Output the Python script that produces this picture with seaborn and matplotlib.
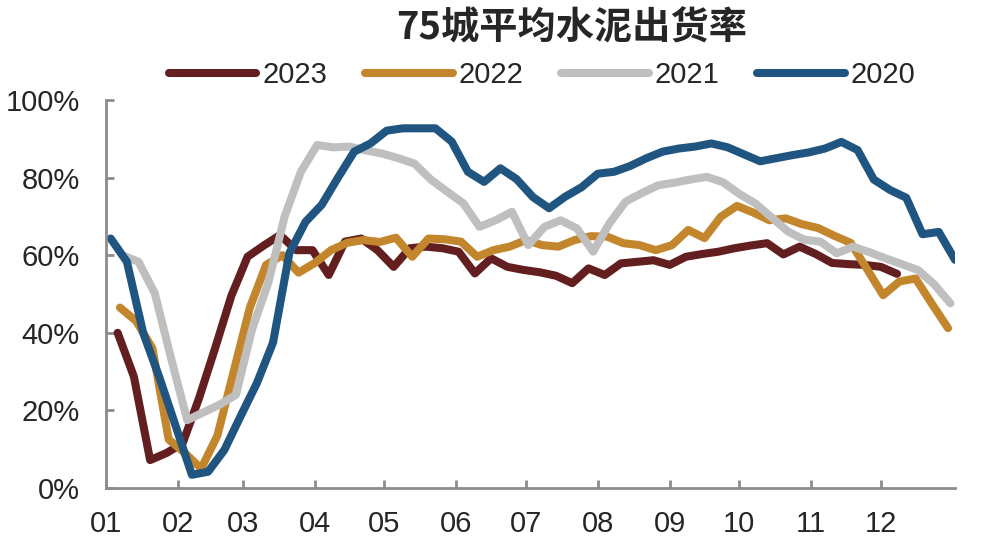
import pandas as pd
import matplotlib
matplotlib.use("Agg")
import matplotlib.pyplot as plt
from matplotlib.lines import Line2D
import seaborn as sns

# weekly shipment rate (%) per year, first Friday of each year
years = ["2023", "2022", "2021", "2020"]
first_weeks = ["2023-01-06", "2022-01-07", "2021-01-08", "2020-01-03"]
colors = ["#631f1f", "#c3862c", "#bfbfbf", "#1f5580"]

v2023 = [40, 28.7, 7.2, 9, 11.5, 23, 36, 49.5, 59.6, 62.5, 65.2, 61.3, 61.3, 54.9,
         63.5, 64.3, 61.3, 57, 61.8, 62.2, 61.8, 60.9, 55.3, 59.2, 57, 56.2, 55.6,
         54.7, 52.8, 56.6, 54.9, 57.9, 58.3, 58.7, 57.5, 59.6, 60.3, 60.9, 61.8,
         62.5, 63.1, 60.2, 62.2, 60.3, 58, 57.7, 57.5, 57, 55.2]
v2022 = [46.5, 43, 36, 12.5, 9, 5, 13.5, 30, 46.5, 57.5, 60, 55.5, 58, 61.3, 63.2,
         63.9, 63.4, 64.5, 59.6, 64.3, 64.1, 63.5, 59.6, 61.3, 62.2, 63.9, 62.6,
         62.2, 63.9, 64.9, 64.8, 63.1, 62.6, 61.3, 62.6, 66.5, 64.4, 69.9, 72.7, 71,
         69, 69.5, 68, 67, 65, 63.2, 56.5, 49.7, 53.2, 54, 47.5, 41.2]
v2021 = [60, 58.3, 50.2, 33.5, 17.5, 19.5, 21.5, 24, 41, 53, 70, 81.5, 88.4, 87.8,
         88, 87, 86.2, 85, 83.6, 79.5, 76.4, 73.4, 67.3, 69, 71.2, 62.6, 67.3, 69,
         66.9, 60.9, 68.2, 73.8, 76, 78, 78.7, 79.5, 80.2, 78.8, 75.8, 73.3, 69.7,
         66.1, 64, 63.5, 60.5, 62.2, 60.8, 59.2, 57.7, 56.2, 52.5, 47.6]
v2020 = [64.3, 58.3, 40, 28.5, 16, 3.4, 4.2, 9.8, 18.5, 27, 37.5, 60.5, 68.6, 73,
         80, 86.7, 88.8, 92.1, 92.7, 92.7, 92.7, 89.3, 81.5, 78.9, 82.4, 79.6, 75,
         72.1, 75.1, 77.5, 81, 81.5, 83, 85, 86.7, 87.5, 88, 88.8, 87.8, 86, 84.2,
         85, 85.8, 86.5, 87.5, 89.2, 87.1, 79.5, 76.8, 74.8, 65.4, 66, 58.8]

month_labels = ["01", "02", "03", "04", "05", "06", "07", "08", "09", "10", "11", "12"]
y_ticks = [0, 20, 40, 60, 80, 100]

# long table with day-of-year as x
frames = []
for year, start, vals in zip(years, first_weeks, [v2023, v2022, v2021, v2020]):
    dates = pd.date_range(start, periods=len(vals), freq="7D")
    days = (dates - pd.Timestamp(year + "-01-01")).days
    frames.append(pd.DataFrame({"year": year, "day": days, "rate": vals}))
df = pd.concat(frames, ignore_index=True)

month_days = (pd.date_range("2023-01-01", periods=12, freq="MS")
              - pd.Timestamp("2023-01-01")).days

sns.set_style("ticks")
plt.rcParams["font.family"] = ["Liberation Sans", "DejaVu Sans"]

fig = plt.figure(figsize=(9.82, 5.5), dpi=100)
ax = fig.add_axes([0.108, 0.1127, 0.8645, 0.7055])

sns.lineplot(data=df, x="day", y="rate", hue="year", hue_order=years,
             palette=colors, linewidth=5.8, legend=False, ax=ax,
             solid_joinstyle="round", solid_capstyle="round")

ax.set_xlim(0, 366)
ax.set_ylim(0, 100)
ax.set_xticks(month_days)
ax.set_xticklabels(month_labels)
ax.set_yticks(y_ticks)
ax.set_yticklabels([f"{v}%" for v in y_ticks])
ax.set_xlabel("")
ax.set_ylabel("")

sns.despine(ax=ax)
for side in ["left", "bottom"]:
    ax.spines[side].set_color("#8c8c8c")
    ax.spines[side].set_linewidth(2)
ax.tick_params(direction="in", length=6, width=2, color="#8c8c8c", labelsize=21)
ax.tick_params(axis="x", pad=16)
ax.tick_params(axis="y", pad=19)

handles = [Line2D([0], [0], color=c, lw=5.8, solid_capstyle="round") for c in colors]
fig.legend(handles, years, loc="center", bbox_to_anchor=(0.552, 0.864), ncol=4,
           frameon=False, fontsize=21, handlelength=3.0, handletextpad=0.2,
           columnspacing=1.3)

fig.text(0.582, 0.950, "75城平均水泥出货率", ha="center", va="center",
         fontsize=27.5, fontweight="bold", family=["Noto Sans CJK SC", "DejaVu Sans"])

fig.savefig("out.png", dpi=100)
